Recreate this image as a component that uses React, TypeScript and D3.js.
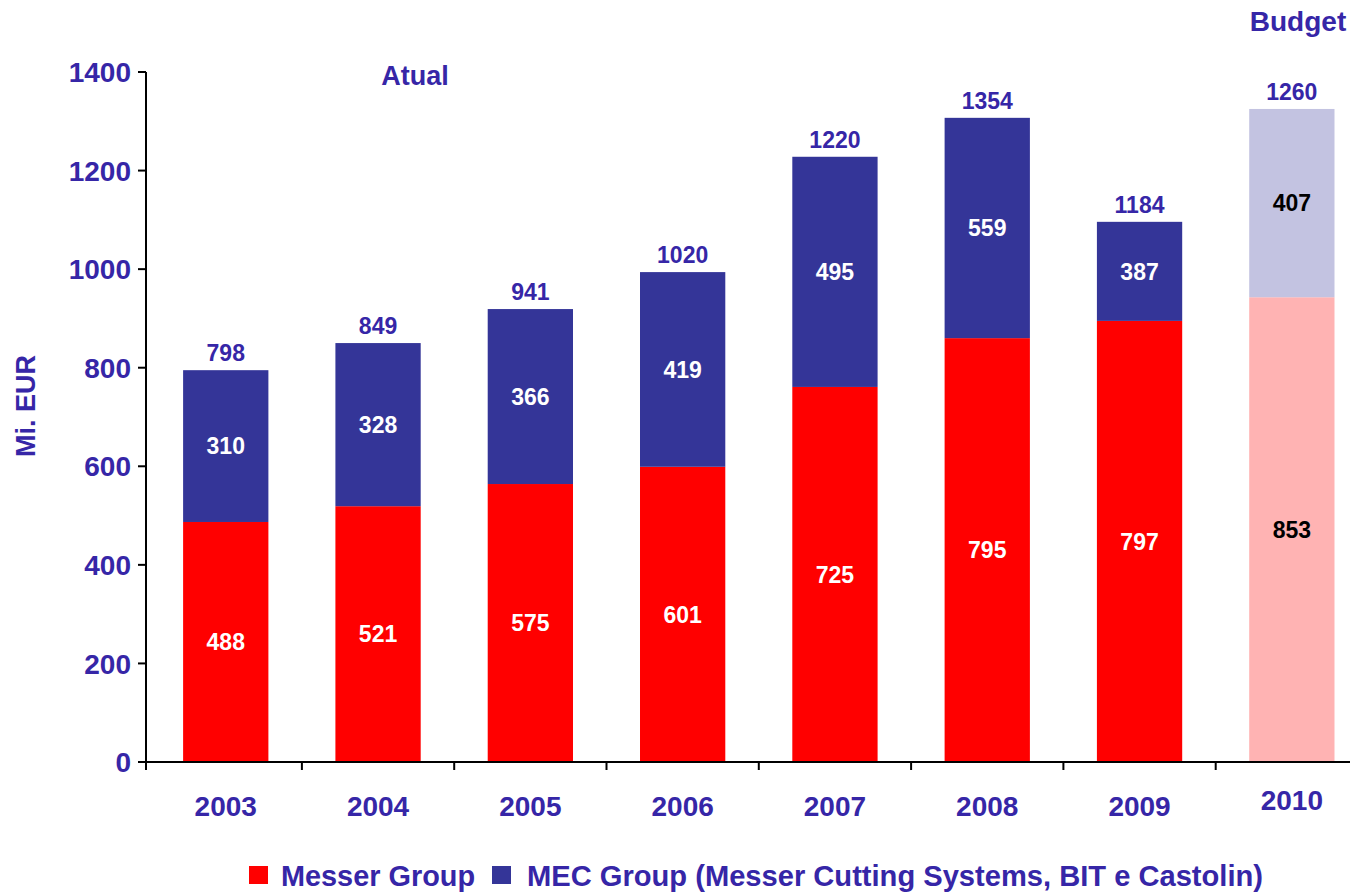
import React from 'react';
import * as d3 from 'd3';

// ---- data ----
const years = ['2003', '2004', '2005', '2006', '2007', '2008', '2009', '2010'];
const budgetYear = '2010';
// values as printed on the chart
const messerLabels = [488, 521, 575, 601, 725, 795, 797, 853];
const mecLabels = [310, 328, 366, 419, 495, 559, 387, 407];
const totalLabels = [798, 849, 941, 1020, 1220, 1354, 1184, 1260];
// bar heights as drawn in the picture (Mi. EUR)
const messerBars = [487, 519, 564, 599, 761, 860, 895, 943];
const mecBars = [308, 331, 355, 395, 467, 447, 201, 382];
const yTicks = [0, 200, 400, 600, 800, 1000, 1200, 1400];
const seriesNames = ['Messer Group', 'MEC Group (Messer Cutting Systems, BIT e Castolin)'];

const W = 1350;
const H = 894;
const FONT = '"Liberation Sans", Arial, Helvetica, sans-serif';
const TEXT_BLUE = '#3626A7';
const RED = '#FF0000';
const BLUE = '#343598';
const RED_LIGHT = '#FFB3B3';
const BLUE_LIGHT = '#C3C3E1';

export default function App() {
  const x = d3.scaleBand<string>().domain(years).range([149.6, 1368]).paddingInner(0.44).paddingOuter(0.22);
  const y = d3.scaleLinear().domain([0, 1400]).range([762, 72]);
  const step = x.step();
  const x0 = 146;

  const rows = years.map((yr, i) => ({
    yr,
    budget: yr === budgetYear,
    messer: messerBars[i],
    mec: mecBars[i],
    messerLabel: messerLabels[i],
    mecLabel: mecLabels[i],
    total: totalLabels[i],
  }));

  const boundaries = years.map((_, i) => (x.range()[0] as number) + i * step);

  return (
    <svg width={W} height={H} style={{ position: 'absolute', left: 0, top: 0, background: '#fff' }} fontFamily={FONT} fontWeight="bold">
      {/* bars */}
      {rows.map((r) => {
        const bx = x(r.yr)!;
        const bw = x.bandwidth();
        const yRedTop = y(r.messer);
        const yTop = y(r.messer + r.mec);
        return (
          <g key={r.yr}>
            <rect x={bx} y={yRedTop} width={bw} height={y(0) - yRedTop} fill={r.budget ? RED_LIGHT : RED} />
            <rect x={bx} y={yTop} width={bw} height={yRedTop - yTop} fill={r.budget ? BLUE_LIGHT : BLUE} />
            <text x={bx + bw / 2} y={(y(0) + yRedTop) / 2} dy="0.36em" textAnchor="middle" fontSize={23} fill={r.budget ? '#000' : '#fff'}>
              {r.messerLabel}
            </text>
            <text x={bx + bw / 2} y={(yRedTop + yTop) / 2} dy="0.36em" textAnchor="middle" fontSize={23} fill={r.budget ? '#000' : '#fff'}>
              {r.mecLabel}
            </text>
            <text x={bx + bw / 2} y={yTop - 9} textAnchor="middle" fontSize={23} fill={TEXT_BLUE}>
              {r.total}
            </text>
          </g>
        );
      })}

      {/* y axis */}
      <line x1={x0} x2={x0} y1={y(1400)} y2={y(0)} stroke="#000" strokeWidth={2} />
      {yTicks.map((t) => (
        <g key={t}>
          <line x1={x0 - 8} x2={x0} y1={y(t)} y2={y(t)} stroke="#000" strokeWidth={2} />
          <text x={131} y={y(t)} dy="0.36em" textAnchor="end" fontSize={28} fill={TEXT_BLUE}>
            {t}
          </text>
        </g>
      ))}

      {/* x axis */}
      <line x1={x0 - 8} x2={W} y1={y(0)} y2={y(0)} stroke="#000" strokeWidth={2} />
      {boundaries.map((b, i) => (
        <line key={i} x1={i === 0 ? x0 : b} x2={i === 0 ? x0 : b} y1={y(0)} y2={y(0) + 8} stroke="#000" strokeWidth={2} />
      ))}
      {years.map((yr) => (
        <text key={yr} x={x(yr)! + x.bandwidth() / 2} y={yr === budgetYear ? 810 : 816} textAnchor="middle" fontSize={28} fill={TEXT_BLUE}>
          {yr}
        </text>
      ))}

      {/* axis title */}
      <text transform="translate(35,406) rotate(-90)" textAnchor="middle" fontSize={27} fill={TEXT_BLUE}>
        Mi. EUR
      </text>

      {/* annotations */}
      <text x={415} y={85} textAnchor="middle" fontSize={27} fill={TEXT_BLUE}>Atual</text>
      <text x={1298} y={31} textAnchor="middle" fontSize={28} fill={TEXT_BLUE}>Budget</text>

      {/* legend */}
      <rect x={249} y={866} width={19} height={18} fill={RED} />
      <text x={281} y={886} fontSize={29} fill={TEXT_BLUE} textLength={194} lengthAdjust="spacingAndGlyphs">{seriesNames[0]}</text>
      <rect x={492} y={866} width={19} height={18} fill={BLUE} />
      <text x={527} y={886} fontSize={29} fill={TEXT_BLUE} textLength={736} lengthAdjust="spacingAndGlyphs">{seriesNames[1]}</text>
    </svg>
  );
}
